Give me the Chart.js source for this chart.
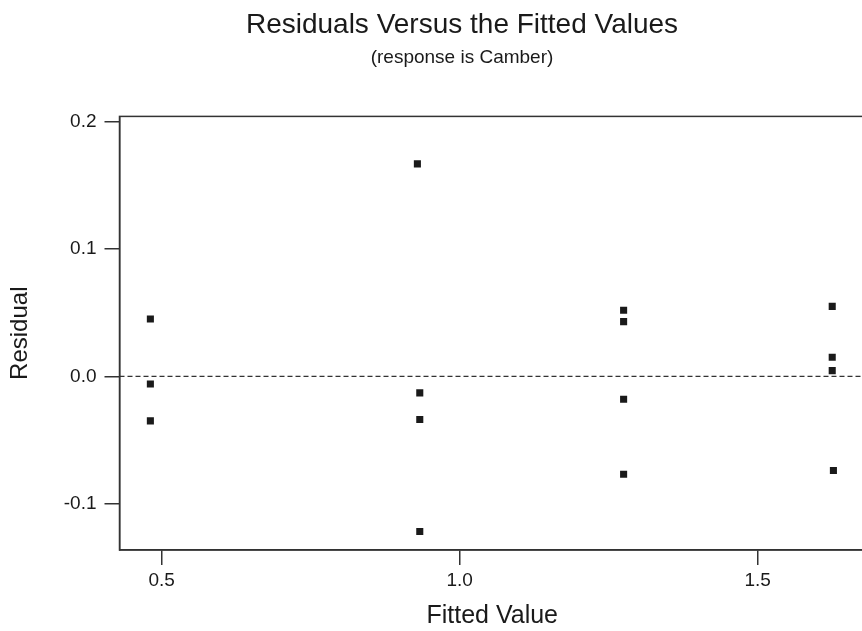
<!DOCTYPE html>
<html>
<head>
<meta charset="utf-8">
<title>Residuals Versus the Fitted Values</title>
<script src="https://cdn.jsdelivr.net/npm/chart.js@4.4.1/dist/chart.umd.min.js"></script>
<style>
  html, body { margin: 0; padding: 0; background: #fff; overflow: hidden; }
  #residChart { display: block; }
</style>
</head>
<body>
<canvas id="residChart" width="870" height="631"></canvas>
<script>
// values
const fitted = [0.481, 0.481, 0.481, 0.929, 0.933, 0.933, 0.933,
                1.275, 1.275, 1.275, 1.275, 1.625, 1.625, 1.625, 1.627];
const residuals = [0.045, -0.006, -0.035, 0.167, -0.013, -0.034, -0.122,
                   0.052, 0.043, -0.018, -0.077, 0.055, 0.015, 0.0045, -0.074];
const xTicks = [0.5, 1.0, 1.5];
const yTicks = [-0.1, 0.0, 0.1, 0.2];
const refLine = 0;

const points = fitted.map((x, i) => ({x: x, y: residuals[i]}));

const family = "'Liberation Sans', Arial, sans-serif";
const ink = '#1a1a1a';
const axisColor = '#333';

// box round the plot, the dashed zero line, and the headings nudged right
const frame = {
    id: 'frame',
    afterLayout(chart) {
        chart.boxes.forEach(b => {
            if (!b.axis && b.options && b.options.position === 'top') {
                b.left += 54;
            }
        });
    },
    beforeDatasetsDraw(chart) {
        const {ctx, chartArea: a, scales} = chart;
        const y0 = scales.y.getPixelForValue(refLine);
        ctx.save();
        ctx.strokeStyle = axisColor;
        ctx.lineWidth = 1.2;
        ctx.setLineDash([5, 3]);
        ctx.beginPath();
        ctx.moveTo(a.left, y0);
        ctx.lineTo(a.right, y0);
        ctx.stroke();
        ctx.restore();
    },
    afterDraw(chart) {
        const {ctx, chartArea: a} = chart;
        ctx.save();
        ctx.strokeStyle = axisColor;
        ctx.lineWidth = 1.5;
        ctx.strokeRect(a.left, a.top, a.right - a.left, a.bottom - a.top);
        ctx.restore();
    }
};

const config = {
    type: 'scatter',
    data: {
        datasets: [{
            label: 'Residual',
            data: points,
            pointStyle: 'rect',
            pointRadius: 5,
            pointHoverRadius: 5,
            backgroundColor: ink,
            borderWidth: 0
        }]
    },
    options: {
        responsive: false,
        animation: false,
        devicePixelRatio: 1,
        events: [],
        layout: { padding: 0 },
        plugins: {
            legend: { display: false },
            tooltip: { enabled: false },
            title: {
                display: true,
                text: 'Residuals Versus the Fitted Values',
                color: ink,
                font: { family: family, size: 28, weight: 'normal' },
                padding: { top: 8, bottom: 3 }
            },
            subtitle: {
                display: true,
                text: '(response is Camber)',
                color: ink,
                font: { family: family, size: 19, weight: 'normal' },
                padding: { top: 2, bottom: 47 }
            }
        },
        scales: {
            x: {
                type: 'linear',
                min: 0.4292,
                max: 1.68,
                border: { display: true, color: axisColor, width: 1.5 },
                grid: { drawOnChartArea: false, drawTicks: true, tickLength: 15, color: axisColor, lineWidth: 1.5 },
                afterBuildTicks: s => { s.ticks = xTicks.map(v => ({value: v})); },
                afterFit: s => { s.height = 81; },
                ticks: {
                    color: ink,
                    padding: 4,
                    font: { family: family, size: 19 },
                    callback: v => Number(v).toFixed(1)
                },
                title: {
                    display: true,
                    text: 'Fitted Value',
                    color: ink,
                    font: { family: family, size: 25 },
                    padding: { top: 0, bottom: 0 }
                }
            },
            y: {
                type: 'linear',
                min: -0.1365,
                max: 0.2043,
                border: { display: true, color: axisColor, width: 1.5 },
                grid: { drawOnChartArea: false, drawTicks: true, tickLength: 15, color: axisColor, lineWidth: 1.5 },
                afterBuildTicks: s => { s.ticks = yTicks.map(v => ({value: v})); },
                afterFit: s => { s.width = 119.5; },
                ticks: {
                    color: ink,
                    padding: 8,
                    font: { family: family, size: 19 },
                    callback: v => Number(v).toFixed(1)
                },
                title: {
                    display: true,
                    text: 'Residual',
                    color: ink,
                    font: { family: family, size: 24 },
                    padding: { top: 6, bottom: 0 }
                }
            }
        }
    },
    plugins: [frame]
};

var residChart = new Chart(
    document.getElementById('residChart'),
    config
);
</script>
</body>
</html>
